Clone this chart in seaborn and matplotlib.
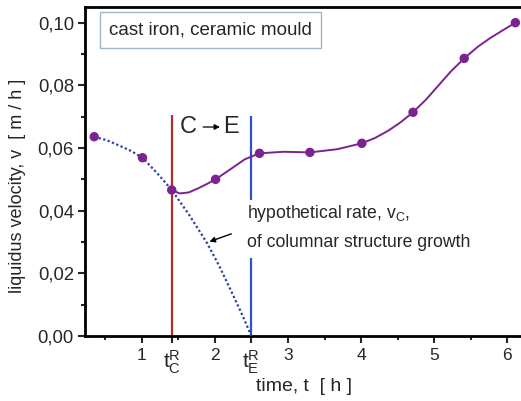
import matplotlib
matplotlib.use('Agg')
from matplotlib import pyplot as plt
from matplotlib.ticker import MultipleLocator, FixedLocator, FuncFormatter
import pandas as pd
import seaborn as sns

# measured points (time in h, liquidus velocity in m/h)
time_pts = [0.35, 1.01, 1.41, 2.01, 2.61, 3.30, 4.01, 4.71, 5.41, 6.11]
vel_pts = [0.0636, 0.0569, 0.0466, 0.0500, 0.0583, 0.0586, 0.0615, 0.0714, 0.0886, 0.1000]

# solid fitted curve (starts at the C->E transition)
curve_t = [1.41, 1.52, 1.64, 1.77, 1.89, 2.01, 2.23, 2.41, 2.61, 2.94, 3.30, 3.67, 4.01,
           4.19, 4.37, 4.54, 4.71, 4.89, 5.06, 5.23, 5.41, 5.59, 5.76, 5.94, 6.11]
curve_v = [0.0466, 0.0455, 0.0458, 0.0471, 0.0485, 0.0500, 0.0535, 0.0564, 0.0583, 0.0588,
           0.0586, 0.0596, 0.0615, 0.0632, 0.0655, 0.0682, 0.0714, 0.0755, 0.0800, 0.0845,
           0.0886, 0.0922, 0.0950, 0.0976, 0.1000]

# hypothetical columnar growth rate (dotted)
hyp_t = [0.35, 0.52, 0.68, 0.85, 1.01, 1.21, 1.41, 1.65, 1.89, 2.05, 2.21, 2.36, 2.50]
hyp_v = [0.0636, 0.0625, 0.0609, 0.0591, 0.0569, 0.0520, 0.0466, 0.0386, 0.0298, 0.0228,
         0.0150, 0.0075, 0.0]

t_C = 1.41
t_E = 2.50
x_ticks = [1, t_C, 2, t_E, 3, 4, 5, 6]
x_labels = ['1', r'$\mathregular{t_C^R}$', '2', r'$\mathregular{t_E^R}$', '3', '4', '5', '6']

sns.set_style('ticks')
plt.rcParams['font.family'] = ['Liberation Sans', 'DejaVu Sans']
plt.rcParams['mathtext.fontset'] = 'custom'
plt.rcParams['mathtext.rm'] = 'Liberation Sans'

purple = '#7b2390'
fig = plt.figure(figsize=(5.21, 4.01), dpi=100)
ax = fig.add_axes([85 / 521, 65 / 401, 445 / 521, 329 / 401])

ax.vlines(t_C, 0, 0.0705, color='#a8322a', lw=1.6, zorder=2)
ax.vlines([t_E, t_E], [0, 0.0434], [0.0249, 0.0702], color='#2f52c4', lw=1.6, zorder=2)

sns.lineplot(x=hyp_t, y=hyp_v, ax=ax, sort=False, estimator=None, color='#2c3fa6',
             lw=1.6, linestyle=(0, (1, 1.1)), zorder=3)
sns.lineplot(x=curve_t, y=curve_v, ax=ax, sort=False, estimator=None, color=purple,
             lw=1.4, zorder=3)
sns.scatterplot(x=time_pts, y=vel_pts, ax=ax, color=purple, s=46, edgecolor='none', zorder=4)

ax.set_xlim(0.224, 6.31)
ax.set_ylim(0, 0.105)
ax.xaxis.set_major_locator(FixedLocator(x_ticks))
ax.set_xticklabels(x_labels)
ax.xaxis.set_minor_locator(MultipleLocator(0.5))
ax.yaxis.set_major_locator(MultipleLocator(0.02))
ax.yaxis.set_minor_locator(MultipleLocator(0.01))
ax.yaxis.set_major_formatter(FuncFormatter(lambda v, p: f'{v:.2f}'.replace('.', ',')))
ax.tick_params(which='major', direction='out', length=5, width=1.5, pad=3)
ax.tick_params(which='minor', direction='out', length=3, width=1.5)
ax.tick_params(axis='y', labelsize=13.3)
ax.tick_params(axis='x', labelsize=12.5, pad=4)
for lab in ax.get_xticklabels():
    if 't' in lab.get_text():
        lab.set_fontsize(15)

for side in ['left', 'bottom', 'top']:
    ax.spines[side].set_linewidth(2)
    ax.spines[side].set_color('black')
ax.spines['right'].set_visible(False)

ax.set_xlabel('time, t  [ h ]', fontsize=14)
ax.set_ylabel('liquidus velocity, v  [ m / h ]', fontsize=13)
ax.xaxis.set_label_coords(0.493, -0.128)
ax.yaxis.set_label_coords(-0.133, 0.455)

ax.text(0.054, 0.930, 'cast iron, ceramic mould', transform=ax.transAxes, fontsize=13.5,
        va='center', ha='left',
        bbox=dict(boxstyle='square,pad=0.5', facecolor='white', edgecolor='#a3b6c9', lw=1))

ax.text(1.525, 0.0667, 'C', fontsize=17, va='center', ha='left')
ax.text(2.11, 0.0667, 'E', fontsize=17, va='center', ha='left')
ax.annotate('', xy=(2.07, 0.0667), xytext=(1.84, 0.0667),
            arrowprops=dict(arrowstyle='-|>', color='black', lw=0.9, mutation_scale=8,
                            shrinkA=0, shrinkB=0))

ax.text(2.44, 0.0392, r'hypothetical rate, v$_\mathregular{C}$,', fontsize=12.7, va='center', ha='left')
ax.text(2.44, 0.0297, 'of columnar structure growth', fontsize=12.7, va='center', ha='left')
ax.annotate('', xy=(1.89, 0.0298), xytext=(2.26, 0.0329),
            arrowprops=dict(arrowstyle='-|>', color='black', lw=1, mutation_scale=8))

fig.savefig('out.png', dpi=100)
